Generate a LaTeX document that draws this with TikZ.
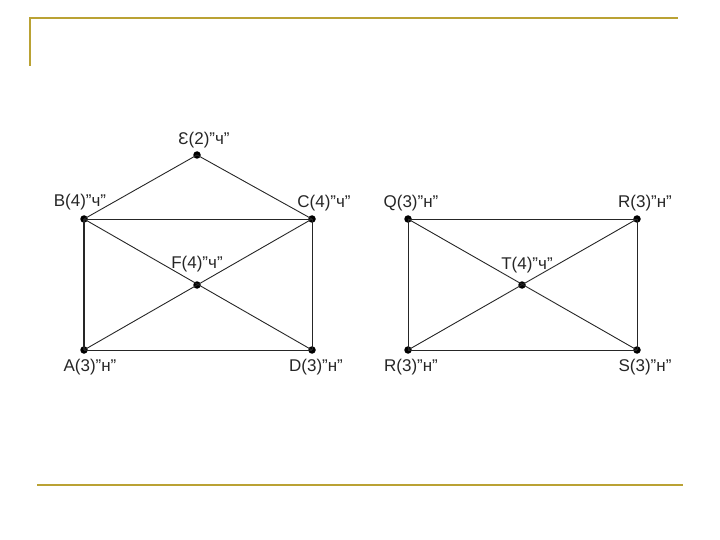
\documentclass[tikz,border=0pt]{standalone}
\usepackage{fontspec}
\setmainfont{Liberation Sans}[Ligatures=ResetAll]
\newcommand{\mydq}{\symbol{34}}
\begin{document}
\begin{tikzpicture}[x=1pt,y=-1pt,
  vtx/.style={circle,fill=black,inner sep=0pt,minimum size=7.5pt},
  lbl/.style={font=\fontsize{17}{19}\selectfont,inner sep=0pt,text=black!85},
  edge/.style={draw=black!85,line width=0.9pt},
  frame/.style={draw={rgb,255:red,186;green,162;blue,52},line width=2pt}]
\useasboundingbox (0,0) rectangle (720,540);
% frame lines
\coordinate (f1) at (30,66);
\coordinate (f2) at (30,18);
\coordinate (f3) at (678,18);
\coordinate (g1) at (37,485);
\coordinate (g2) at (683,485);
\draw[frame] (f1) -- (f2) -- (f3);
\draw[frame] (g1) -- (g2);
% left graph
\node[vtx] (E) at (197,155) {};
\node[vtx] (B) at (84,219) {};
\node[vtx] (C) at (312,219) {};
\node[vtx] (F) at (197,285) {};
\node[vtx] (A) at (84,350) {};
\node[vtx] (D) at (312,350) {};
\draw[edge] (E.center) -- (B.center);
\draw[edge] (E.center) -- (C.center);
\draw[edge] (B.center) -- (C.center);
\draw[edge,line width=1.5pt] (B.center) -- (A.center);
\draw[edge] (C.center) -- (D.center);
\draw[edge] (A.center) -- (D.center);
\draw[edge] (B.center) -- (D.center);
\draw[edge] (C.center) -- (A.center);
\node[lbl] (lE) at (204,140) {Ɛ(2)\mydq ч\mydq};
\node[lbl] (lB) at (80,202) {B(4)\mydq ч\mydq};
\node[lbl] (lC) at (324,203) {C(4)\mydq ч\mydq};
\node[lbl] (lF) at (197,264) {F(4)\mydq ч\mydq};
\node[lbl] (lA) at (90,367) {A(3)\mydq н\mydq};
\node[lbl] (lD) at (316,367) {D(3)\mydq н\mydq};
% right graph
\node[vtx] (Q) at (408,219) {};
\node[vtx] (R1) at (637,219) {};
\node[vtx] (T) at (522,285) {};
\node[vtx] (R2) at (408,350) {};
\node[vtx] (S) at (637,350) {};
\draw[edge] (Q.center) -- (R1.center);
\draw[edge] (Q.center) -- (R2.center);
\draw[edge] (R1.center) -- (S.center);
\draw[edge] (R2.center) -- (S.center);
\draw[edge] (Q.center) -- (S.center);
\draw[edge] (R1.center) -- (R2.center);
\node[lbl] (lQ) at (411,203) {Q(3)\mydq н\mydq};
\node[lbl] (lR1) at (645,203) {R(3)\mydq н\mydq};
\node[lbl] (lT) at (527,265) {T(4)\mydq ч\mydq};
\node[lbl] (lR2) at (411,367) {R(3)\mydq н\mydq};
\node[lbl] (lS) at (645,367) {S(3)\mydq н\mydq};
\end{tikzpicture}
\end{document}
